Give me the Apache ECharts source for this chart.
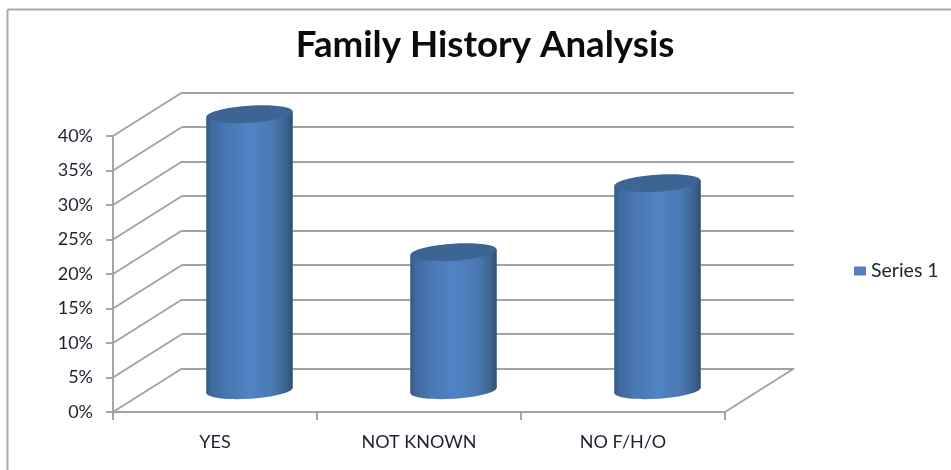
<!DOCTYPE html>
<html>
<head>
<meta charset="utf-8">
<style>html,body{margin:0;padding:0;background:#fff}#c{width:951px;height:470px}</style>
<script src="https://cdn.jsdelivr.net/npm/echarts@6/dist/echarts.min.js"></script>
</head>
<body>
<div id="c"></div>
<script>
const titleText = 'Family History Analysis';
const seriesName = 'Series 1';
const categories = ['YES', 'NOT KNOWN', 'NO F/H/O'];
const seriesValues = [40, 20, 30];
const gridValues = [0, 5, 10, 15, 20, 25, 30, 35, 40];

const FONT = 'Lato, "Open Sans", sans-serif';
const LINE = '#a2a2a2';
const LW = 1.9;
const TEXT = '#1d2230';
const DX = 69, DY = -43.5;

const chart = echarts.init(document.getElementById('c'), null, {renderer: 'canvas'});

function renderGrid(params, api) {
  const v = api.value(1);
  const band = api.size([1, 0])[0];
  const p = api.coord([0, v]);
  const x = p[0] - band / 2;
  const style = {stroke: LINE, lineWidth: LW, fill: null};
  const children = [{
    type: 'line',
    shape: {x1: x, y1: p[1], x2: x + DX, y2: p[1] + DY},
    style
  }];
  if (v === 0) {
    const q = api.coord([categories.length - 1, 0]);
    const xr = q[0] + band / 2;
    children.push({
      type: 'line',
      shape: {x1: xr, y1: q[1], x2: xr + DX, y2: q[1] + DY},
      style
    });
  }
  return {type: 'group', children};
}

function renderCylinder(params, api) {
  const band = api.size([1, 0])[0];
  const top = api.coord([api.value(0), api.value(1)]);
  const base = api.coord([api.value(0), 0]);
  const cx = top[0] + DX / 2;
  const yTop = top[1] + DY / 2;
  const yBase = base[1] + DY / 2;
  const rx = band * 0.212, ry = 8.5, tilt = 0.065;
  const lift = rx * Math.sin(tilt);
  const body = new echarts.graphic.LinearGradient(0, 0, 1, 0, [
    {offset: 0, color: '#335680'},
    {offset: 0.06, color: '#3f6a9f'},
    {offset: 0.22, color: '#4876b0'},
    {offset: 0.5, color: '#5083c6'},
    {offset: 0.78, color: '#4a78b0'},
    {offset: 0.92, color: '#3d6592'},
    {offset: 1, color: '#2e4e72'}
  ]);
  const ellipse = (cy, fill) => ({
    type: 'ellipse',
    shape: {cx, cy, rx, ry},
    originX: cx, originY: cy, rotation: tilt,
    style: {fill}
  });
  return {
    type: 'group',
    children: [
      ellipse(yBase, body),
      {
        type: 'polygon',
        shape: {points: [
          [cx - rx, yTop + lift], [cx + rx, yTop - lift],
          [cx + rx, yBase - lift], [cx - rx, yBase + lift]
        ]},
        style: {fill: body}
      },
      ellipse(yTop, '#3c6593')
    ]
  };
}

const axisLine = {show: true, lineStyle: {color: LINE, width: LW}};

chart.setOption({
  animation: false,
  backgroundColor: '#fff',
  title: {
    text: titleText, left: 480, top: 22, textAlign: 'center',
    textStyle: {fontFamily: FONT, fontWeight: 'bold', fontSize: 36.7, color: '#0c0c10'}
  },
  legend: {
    data: [seriesName], left: 854, top: 261, padding: 0, icon: 'rect', itemWidth: 12, itemHeight: 9, itemGap: 5,
    selectedMode: false,
    textStyle: {fontFamily: FONT, fontSize: 19.5, color: TEXT, padding: 0}
  },
  grid: [
    {left: 113, top: 136, width: 612, height: 276},
    {left: 182, top: 92.5, width: 612, height: 276}
  ],
  xAxis: [
    {
      type: 'category', gridIndex: 0, data: categories,
      axisLine, axisTick: {show: true, length: 8, lineStyle: {color: LINE, width: LW}},
      axisLabel: {margin: 21, fontFamily: FONT, fontSize: 18, color: TEXT},
      splitLine: {show: false}
    },
    {type: 'category', gridIndex: 1, data: categories, show: false}
  ],
  yAxis: [
    {
      type: 'value', gridIndex: 0, min: 0, max: 40, interval: 5,
      axisLine, axisTick: {show: true, length: 7, lineStyle: {color: LINE, width: LW}},
      axisLabel: {formatter: '{value}%', margin: 20, fontFamily: FONT, fontSize: 18, color: TEXT, padding: [2, 0, 0, 0]},
      splitLine: {show: false}
    },
    {
      type: 'value', gridIndex: 1, min: 0, max: 40, interval: 5,
      axisLine: {show: false}, axisTick: {show: false}, axisLabel: {show: false},
      splitLine: {show: true, lineStyle: {color: LINE, width: LW}}
    }
  ],
  graphic: [
    {type: 'line', shape: {x1: 7.5, y1: 9.5, x2: 951, y2: 9.5}, style: {stroke: '#aaaaaa', lineWidth: 2}, silent: true},
    {type: 'line', shape: {x1: 7.5, y1: 9.5, x2: 7.5, y2: 470}, style: {stroke: '#aaaaaa', lineWidth: 2}, silent: true}
  ],
  series: [
    {
      name: 'walls', type: 'custom', xAxisIndex: 0, yAxisIndex: 0, silent: true, clip: false, z: 1,
      data: gridValues.map(v => [0, v]),
      encode: {x: 0, y: 1},
      renderItem: renderGrid
    },
    {
      name: seriesName, type: 'custom', xAxisIndex: 0, yAxisIndex: 0, clip: false, z: 5,
      itemStyle: {color: '#4f81bd'},
      data: categories.map((c, i) => [i, seriesValues[i]]),
      encode: {x: 0, y: 1},
      renderItem: renderCylinder
    }
  ]
});
</script>
</body>
</html>
